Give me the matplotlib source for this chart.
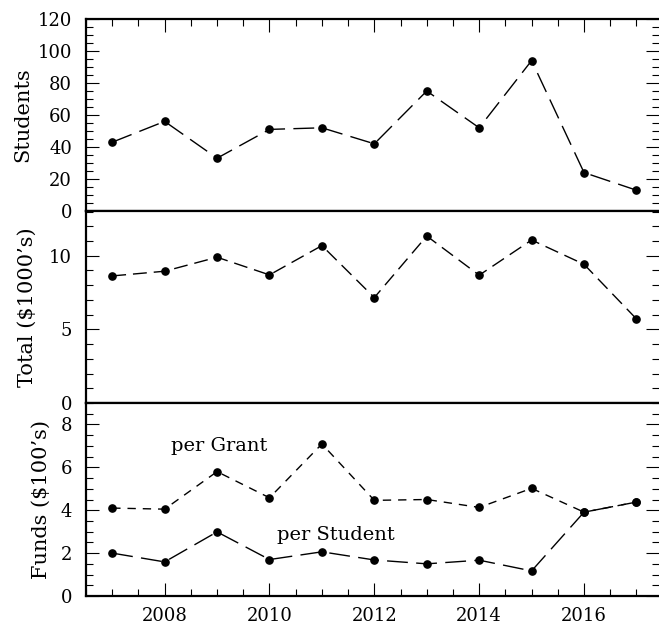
import numpy as np
import matplotlib
matplotlib.use("Agg")
import matplotlib.pyplot as plt
from matplotlib.ticker import MultipleLocator

# values
years = [2007, 2008, 2009, 2010, 2011, 2012, 2013, 2014, 2015, 2016, 2017]
students = [43, 56, 33, 51, 52, 42, 75, 52, 94, 24, 13]
total_k = [8.63, 8.95, 9.9, 8.7, 10.69, 7.16, 11.34, 8.68, 11.07, 9.42, 5.71]
per_grant = [4.10, 4.05, 5.80, 4.58, 7.09, 4.46, 4.50, 4.13, 5.02, 3.91, 4.38]
per_student = [2.00, 1.59, 2.99, 1.70, 2.06, 1.68, 1.50, 1.67, 1.17, 3.91, 4.38]

plt.rcParams['font.family'] = ['DejaVu Serif']

W, H = 659, 624
fig = plt.figure(figsize=(W / 100, H / 100), dpi=100)

left_px, right_px = 86, 659
rows = [(19, 211), (211, 403), (403, 596)]


def make_axes(top_px, bot_px):
    return fig.add_axes([left_px / W, 1 - bot_px / H,
                         (right_px - left_px) / W, (bot_px - top_px) / H])


axes = [make_axes(t, b) for t, b in rows]

for i, ax in enumerate(axes):
    ax.set_xlim(2006.5, 2017.43)
    ax.xaxis.set_major_locator(MultipleLocator(2))
    ax.xaxis.set_minor_locator(MultipleLocator(0.5))
    for s in ax.spines.values():
        s.set_linewidth(1.6)
    ax.spines['right'].set_visible(False)  # right border falls off the picture
    ax.tick_params(which='both', direction='in', left=True, right=True,
                   top=(i == 0), bottom=(i == 2), labelbottom=(i == 2),
                   labelsize=13, width=0.8)
    ax.tick_params(which='major', length=9.5)
    ax.tick_params(which='minor', length=5)
    ax.tick_params(axis='y', pad=10)
    ax.tick_params(axis='x', pad=8)

mk = dict(marker='o', color='black', markersize=5.2, lw=1.0)

# Students
ax = axes[0]
ax.plot(years, students, dashes=(15, 6), **mk)
ax.set_ylim(0, 120)
ax.yaxis.set_major_locator(MultipleLocator(20))
ax.yaxis.set_minor_locator(MultipleLocator(5))
ax.set_ylabel('Students', fontsize=15, va='center')
ax.yaxis.set_label_coords((23 - left_px) / (right_px - left_px), 0.5)

# Total
ax = axes[1]
ax.plot(years, total_k, dashes=(10, 5), **mk)
ax.set_ylim(0, 13.04)
ax.yaxis.set_major_locator(MultipleLocator(5))
ax.yaxis.set_minor_locator(MultipleLocator(1))
ax.set_ylabel("Total ($1000\u2019s)", fontsize=15, va='center')
ax.yaxis.set_label_coords((27 - left_px) / (right_px - left_px), 0.5)

# Funds
ax = axes[2]
ax.plot(years, per_grant, dashes=(6, 5), **mk)
ax.plot(years, per_student, dashes=(15, 6), **mk)
ax.set_ylim(0, 9.0)
ax.yaxis.set_major_locator(MultipleLocator(2))
ax.yaxis.set_minor_locator(MultipleLocator(0.5))
ax.set_ylabel("Funds ($100\u2019s)", fontsize=15, va='center')
ax.yaxis.set_label_coords((41 - left_px) / (right_px - left_px), 0.5)
ax.text(2009.05, 7.0, 'per Grant', fontsize=14, ha='center', va='center')
ax.text(2011.26, 2.84, 'per Student', fontsize=14, ha='center', va='center')

fig.savefig('out.png', dpi=100)
